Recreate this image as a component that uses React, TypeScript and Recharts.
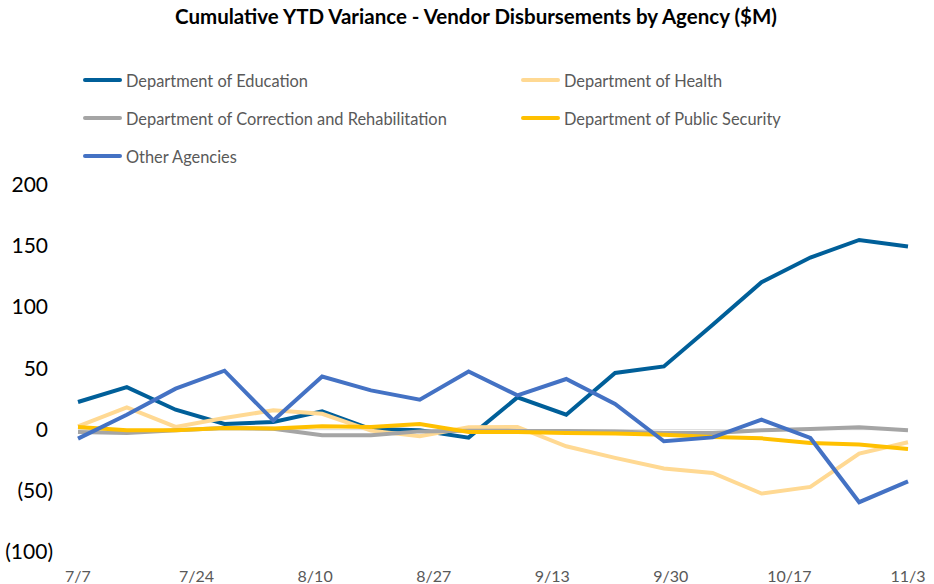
import React from 'react';
import { LineChart, Line, XAxis, YAxis, ReferenceLine, Legend } from 'recharts';

const weekLabels = ['7/7','7/14','7/21','7/28','8/4','8/11','8/18','8/25','9/1','9/8','9/15','9/22','9/29','10/6','10/13','10/20','10/27','11/3'];
const education = [22.6, 34.8, 16.3, 4.6, 6.3, 15, 0.5, -0.5, -6.5, 26.4, 12.2, 46.3, 51.7, 85.7, 120.5, 140.7, 155.1, 149.7];
const health = [2.7, 18.2, 2.2, 9.5, 15.8, 13, -0.8, -5.4, 1.9, 2.2, -13.6, -23.1, -31.8, -35.4, -52.2, -46.8, -19.6, -10.3];
const correction = [-1.9, -2.7, -0.5, 1.4, 0.8, -4.6, -4.6, -1.4, -0.8, -1, -1, -1.5, -2.7, -2.7, -0.5, 0.5, 1.9, -0.5];
const publicSecurity = [2.2, -0.5, -0.5, 1.4, 1, 2.7, 2.2, 4.6, -1.9, -2, -2.7, -3.2, -4.1, -6, -7.1, -10.9, -12.2, -15.8];
const otherAgencies = [-7.3, 12.2, 33.5, 48.2, 7.6, 43.5, 32.1, 24.5, 47.6, 28, 41.4, 21, -9.5, -6.3, 8.2, -6.8, -59.3, -42.2];
const xTickLabels = ['7/7','7/24','8/10','8/27','9/13','9/30','10/17','11/3'];
const yTicks = [-100, -50, 0, 50, 100, 150, 200];

const seriesNames = ['Department of Education', 'Department of Health', 'Department of Correction and Rehabilitation', 'Department of Public Security', 'Other Agencies'];
const seriesKeys = ['education', 'health', 'correction', 'publicSecurity', 'other'];
const seriesColors = ['#005F99', '#FFD993', '#A5A5A5', '#FFC000', '#4472C4'];

const dayOffset = (label: string) => {
  const [m, d] = label.split('/').map(Number);
  const base = Date.UTC(2023, 6, 7);
  return Math.round((Date.UTC(2023, m - 1, d) - base) / 86400000);
};

const data = weekLabels.map((w, i) => ({
  day: dayOffset(w),
  education: education[i],
  health: health[i],
  correction: correction[i],
  publicSecurity: publicSecurity[i],
  other: otherAgencies[i],
}));

const xTicks = xTickLabels.map(dayOffset);
const labelByDay: Record<number, string> = {};
xTickLabels.forEach((l) => { labelByDay[dayOffset(l)] = l; });

const FONT = 'Lato, "Open Sans", sans-serif';

const YTick = (props: any) => {
  const { y, payload } = props;
  const v = payload.value;
  const txt = v < 0 ? `(${Math.abs(v)})` : `${v}`;
  const xEnd = v < 0 ? 53 : 48;
  return (
    <text x={xEnd} y={y} dy={7} textAnchor="end" fontFamily={FONT} fontSize={21} fill="#000000">{txt}</text>
  );
};

const XTick = (props: any) => {
  const { x, payload } = props;
  return (
    <text x={x} y={582} textAnchor="middle" fontFamily={FONT} fontSize={16} fill="#595959">{labelByDay[payload.value] ?? ''}</text>
  );
};

const LegendContent = () => {
  const colX = [83, 521];
  const rowY = [80, 118, 156];
  return (
    <div style={{ position: 'relative', width: 934, height: 0 }}>
      {seriesNames.map((name, i) => {
        const col = i % 2;
        const row = Math.floor(i / 2);
        return (
          <div key={name} style={{ position: 'absolute', left: colX[col], top: rowY[row] - 11, height: 22, display: 'flex', alignItems: 'center', fontFamily: FONT, fontSize: 16.4, color: '#595959', whiteSpace: 'nowrap' }}>
            <span style={{ display: 'inline-block', width: 39, height: 4, background: seriesColors[i], borderRadius: 2, marginRight: 4 }} />
            {name}
          </div>
        );
      })}
    </div>
  );
};

export default function App() {
  return (
    <div style={{ position: 'absolute', left: 0, top: 0, width: 934, height: 584, background: '#fff' }}>
      <div style={{ position: 'absolute', left: 0, top: 3, width: 952, textAlign: 'center', fontFamily: FONT, fontWeight: 700, fontSize: 20.5, color: '#000', lineHeight: '26px' }}>
        Cumulative YTD Variance - Vendor Disbursements by Agency ($M)
      </div>
      <LineChart width={934} height={584} data={data} margin={{ top: 185, right: 26, bottom: 0, left: 0 }}>
        <XAxis dataKey="day" type="number" domain={[0, 119]} ticks={xTicks} interval={0} tick={<XTick />} axisLine={false} tickLine={false} height={32} />
        <YAxis type="number" domain={[-100, 200]} ticks={yTicks} interval={0} tick={<YTick />} axisLine={false} tickLine={false} width={78} />
        <ReferenceLine y={0} stroke="#D9D9D9" strokeWidth={1} />
        <Legend layout="horizontal" verticalAlign="middle" align="center" wrapperStyle={{ position: 'absolute', top: 0, left: 0, width: 934, height: 0 }} content={<LegendContent />} />
        {seriesKeys.map((k, i) => (
          <Line key={k} type="linear" dataKey={k} name={seriesNames[i]} stroke={seriesColors[i]} strokeWidth={4} dot={false} isAnimationActive={false} />
        ))}
      </LineChart>
    </div>
  );
}
